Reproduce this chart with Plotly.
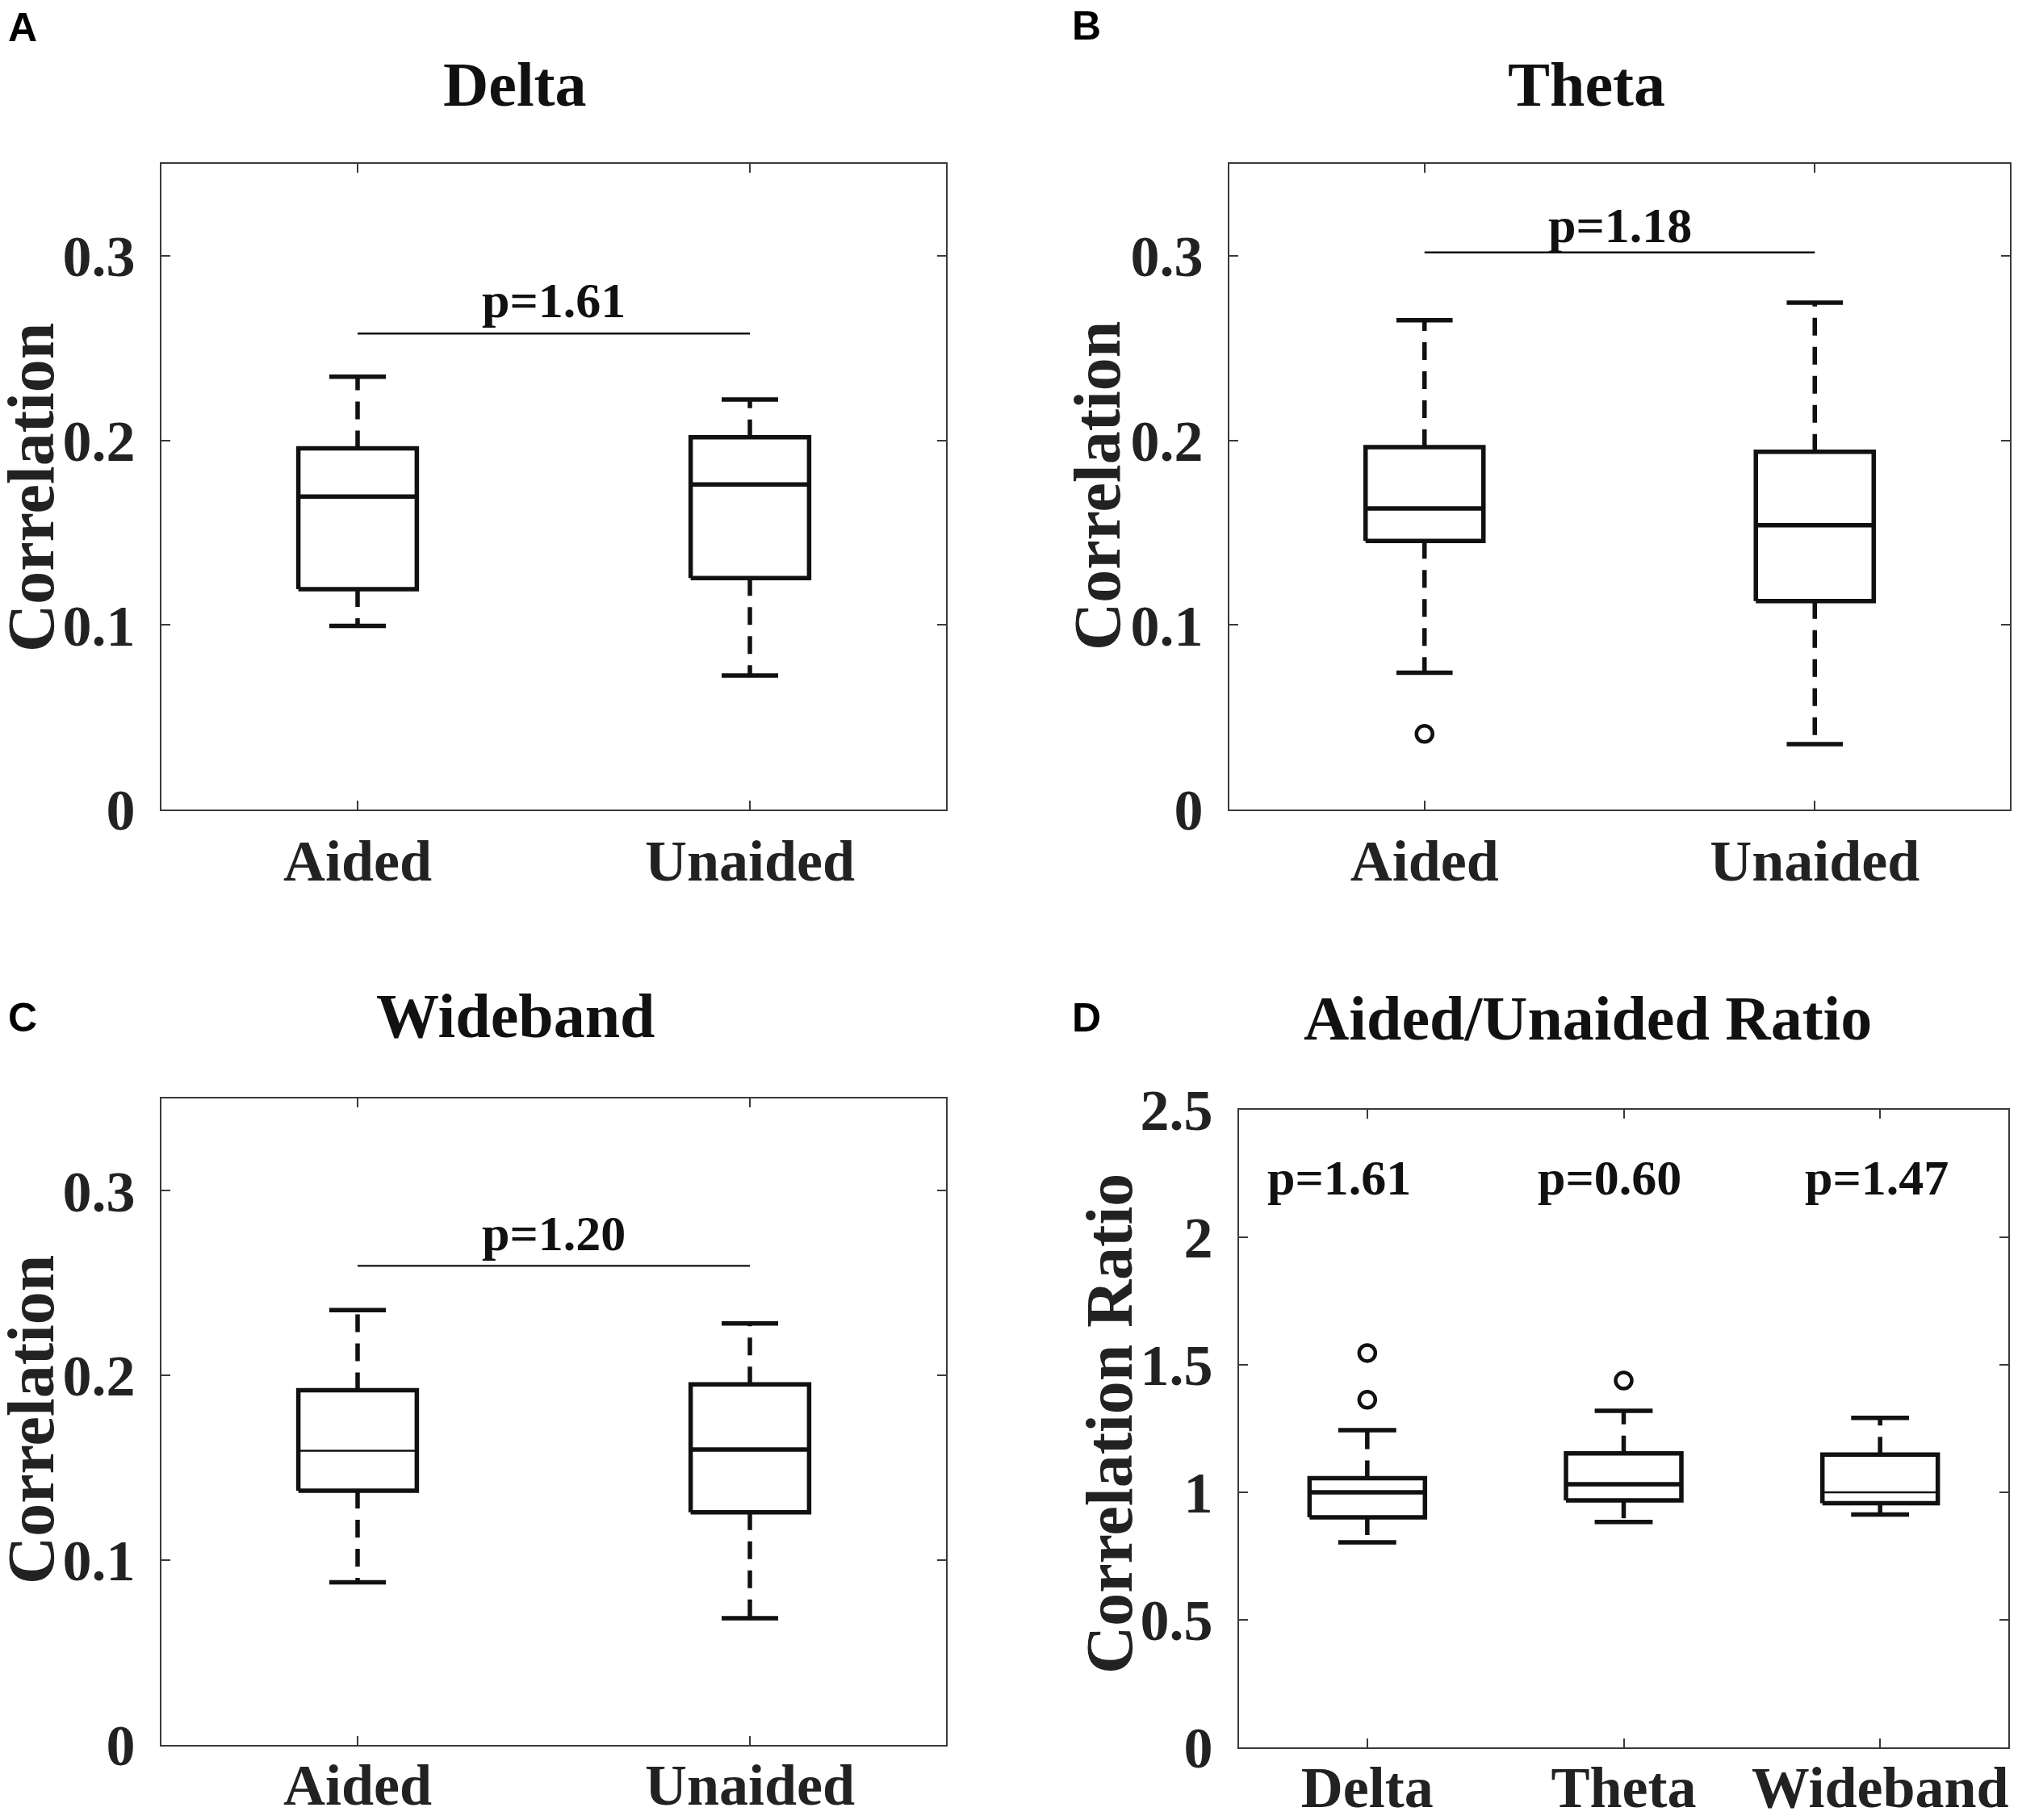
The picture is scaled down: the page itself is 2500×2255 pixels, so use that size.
import plotly.graph_objects as go

# ---- data ----
groups_ab = ["Aided", "Unaided"]
bands = ["Delta", "Theta", "Wideband"]

# panel A: Delta
delta_lo = [0.0995, 0.0726]
delta_q1 = [0.1194, 0.1254]
delta_med = [0.1696, 0.1762]
delta_q3 = [0.1958, 0.2018]
delta_hi = [0.2346, 0.2223]
delta_out = [[], []]
delta_p = "p=1.61"
delta_bar = 0.258
delta_p_y = 0.276

# panel B: Theta
theta_lo = [0.0742, 0.0354]
theta_q1 = [0.1456, 0.1130]
theta_med = [0.1632, 0.1541]
theta_q3 = [0.1964, 0.1939]
theta_hi = [0.2652, 0.2747]
theta_out = [[0.0410], []]
theta_p = "p=1.18"
theta_bar = 0.302
theta_p_y = 0.3167

# panel C: Wideband
wide_lo = [0.0881, 0.0686]
wide_q1 = [0.1376, 0.1259]
wide_med = [0.1593, 0.1599]
wide_q3 = [0.1920, 0.1952]
wide_hi = [0.2354, 0.2282]
wide_out = [[], []]
wide_p = "p=1.20"
wide_bar = 0.2594
wide_p_y = 0.277

# panel D: Aided/Unaided ratio
ratio_lo = [0.804, 0.884, 0.913]
ratio_q1 = [0.902, 0.968, 0.957]
ratio_med = [1.000, 1.032, 1.000]
ratio_q3 = [1.055, 1.153, 1.148]
ratio_hi = [1.244, 1.320, 1.292]
ratio_out = [[1.546, 1.363], [1.438], []]
ratio_p = ["p=1.61", "p=0.60", "p=1.47"]
ratio_p_x = [0.89, 1.946, 2.987]
ratio_p_y = 2.235

corr_ticks = [0, 0.1, 0.2, 0.3]
ratio_ticks = [0, 0.5, 1, 1.5, 2, 2.5]

SERIF = "Liberation Serif"
INK = "#111111"
AX = "#3a3a3a"
LW = 5.5

# the page body has an 8px margin; size the figure so the page is 2500x2255
OFF = 8
W, H = 2500 - 2 * OFF, 2255 - 2 * OFF


def px(x):  # page pixel -> paper x
    return min(1.0, max(0.0, (x - OFF) / W))


def py(y):  # page pixel (from top) -> paper y
    return min(1.0, max(0.0, 1 - (y - OFF) / H))


def add_boxes(fig, n, lo, q1, med, q3, hi, outl, half_w, cap_w, thin_med=()):
    xr, yr = f"x{n}", f"y{n}"
    for i in range(len(med)):
        x = i + 1
        fig.add_trace(go.Scatter(
            x=[x - half_w, x + half_w, x + half_w, x - half_w, x - half_w],
            y=[q1[i], q1[i], q3[i], q3[i], q1[i]],
            mode="lines", line=dict(color=INK, width=LW),
            xaxis=xr, yaxis=yr, showlegend=False, hoverinfo="skip"))
        fig.add_trace(go.Scatter(
            x=[x - half_w, x + half_w], y=[med[i], med[i]],
            mode="lines", line=dict(color=INK, width=2.6 if i in thin_med else LW),
            xaxis=xr, yaxis=yr, showlegend=False, hoverinfo="skip"))
        fig.add_trace(go.Scatter(
            x=[x, x, None, x, x], y=[q3[i], hi[i], None, q1[i], lo[i]],
            mode="lines", line=dict(color=INK, width=LW, dash="22px,14px"),
            xaxis=xr, yaxis=yr, showlegend=False, hoverinfo="skip"))
        fig.add_trace(go.Scatter(
            x=[x - cap_w, x + cap_w, None, x - cap_w, x + cap_w],
            y=[hi[i], hi[i], None, lo[i], lo[i]],
            mode="lines", line=dict(color=INK, width=LW),
            xaxis=xr, yaxis=yr, showlegend=False, hoverinfo="skip"))
        if outl[i]:
            fig.add_trace(go.Scatter(
                x=[x] * len(outl[i]), y=outl[i], mode="markers",
                marker=dict(symbol="circle-open", size=20, color=INK,
                            line=dict(width=4.5, color=INK)),
                xaxis=xr, yaxis=yr, showlegend=False, hoverinfo="skip"))


fig = go.Figure()
add_boxes(fig, "", delta_lo, delta_q1, delta_med, delta_q3, delta_hi, delta_out, 0.151, 0.072)
add_boxes(fig, 2, theta_lo, theta_q1, theta_med, theta_q3, theta_hi, theta_out, 0.151, 0.072)
add_boxes(fig, 3, wide_lo, wide_q1, wide_med, wide_q3, wide_hi, wide_out, 0.151, 0.072, thin_med=(0,))
add_boxes(fig, 4, ratio_lo, ratio_q1, ratio_med, ratio_q3, ratio_hi, ratio_out, 0.225, 0.113, thin_med=(2,))

# significance bars
for n, yb in [("", delta_bar), (2, theta_bar), (3, wide_bar)]:
    fig.add_trace(go.Scatter(
        x=[1, 2], y=[yb, yb], mode="lines", line=dict(color=INK, width=2.4),
        xaxis=f"x{n}", yaxis=f"y{n}", showlegend=False, hoverinfo="skip"))

tickfont = dict(family=SERIF, size=72, color="#222222", weight="bold")
# plot boxes in page pixels: (left, right, top, bottom)
boxes = {
    "": (200, 1172, 203, 1003),
    "2": (1523, 2490, 203, 1003),
    "3": (200, 1172, 1361, 2162),
    "4": (1535, 2488, 1375, 2165),
}
layout_axes = {}
for n, (l, r, t, b) in boxes.items():
    is_ratio = n == "4"
    bottom_row = n in ("3", "4")
    cats = bands if is_ratio else groups_ab
    yt = ratio_ticks if is_ratio else corr_ticks
    common = dict(showline=True, linecolor=AX, linewidth=2, mirror="ticks",
                  ticks="inside", ticklen=11, tickwidth=2, tickcolor=AX,
                  showgrid=False, zeroline=False, tickfont=tickfont,
                  automargin=False, fixedrange=True)
    layout_axes[f"xaxis{n}"] = dict(
        domain=[px(l), px(r)], anchor=f"y{n}", range=[0.5, len(cats) + 0.5],
        tickvals=list(range(1, len(cats) + 1)), ticktext=cats,
        # bottom row sits right at the page edge; pull its labels up a little
        ticklabelstandoff=-14 if bottom_row else 0, **common)
    layout_axes[f"yaxis{n}"] = dict(
        domain=[py(b), py(t)], anchor=f"x{n}", range=[0, 2.5] if is_ratio else [0, 0.35],
        tickvals=yt, ticktext=[f"{v:g}" for v in yt],
        ticklabelstandoff=16, **common)

fig.update_layout(
    template="none",
    width=W, height=H,
    margin=dict(l=0, r=0, t=0, b=0, pad=0, autoexpand=False),
    paper_bgcolor="white", plot_bgcolor="white",
    showlegend=False,
    **layout_axes,
)

ann = []
# panel titles
for txt, x, y in [("Delta", 638, 105), ("Theta", 1966, 105),
                  ("Wideband", 638, 1258), ("Aided/Unaided Ratio", 1967, 1261)]:
    ann.append(dict(text=txt, x=px(x), y=py(y), xref="paper", yref="paper", showarrow=False,
                    font=dict(family=SERIF, size=78, color=INK, weight="bold"),
                    xanchor="center", yanchor="middle"))
# panel letters
for txt, x, y in [("A", 28, 34), ("B", 1346, 32), ("C", 28, 1261), ("D", 1346, 1261)]:
    ann.append(dict(text=txt, x=px(x), y=py(y), xref="paper", yref="paper", showarrow=False,
                    font=dict(family="Liberation Sans", size=50, color="black", weight="bold"),
                    xanchor="center", yanchor="middle"))
# y-axis titles
for txt, x, y in [("Correlation", 38, 604), ("Correlation", 1360, 602),
                  ("Correlation", 38, 1759), ("Correlation Ratio", 1374, 1764)]:
    ann.append(dict(text=txt, x=px(x), y=py(y), xref="paper", yref="paper", showarrow=False,
                    textangle=-90,
                    font=dict(family=SERIF, size=82, color="#222222", weight="bold"),
                    xanchor="center", yanchor="middle"))
# p-values
pfont = dict(family=SERIF, size=62, color=INK, weight="bold")
for n, txt, yp in [("", delta_p, delta_p_y), ("2", theta_p, theta_p_y), ("3", wide_p, wide_p_y)]:
    ann.append(dict(text=txt, x=1.5, y=yp, xref=f"x{n}", yref=f"y{n}", showarrow=False,
                    font=pfont, xanchor="center", yanchor="middle"))
for txt, xp in zip(ratio_p, ratio_p_x):
    ann.append(dict(text=txt, x=xp, y=ratio_p_y, xref="x4", yref="y4",
                    showarrow=False, font=pfont, xanchor="center", yanchor="middle"))
fig.update_layout(annotations=ann)

fig.write_html("out.html")
